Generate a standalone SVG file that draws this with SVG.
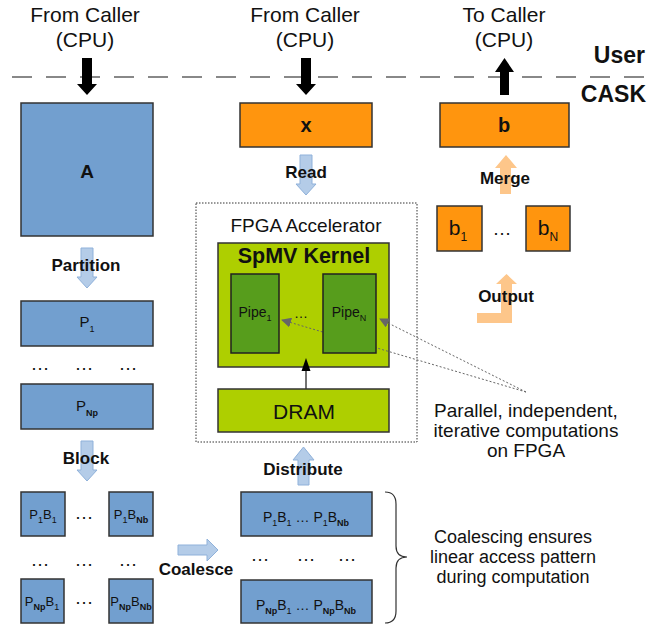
<svg xmlns="http://www.w3.org/2000/svg" width="672" height="629" viewBox="0 0 672 629">
<defs>
<style>
text{font-family:"Liberation Sans",Arial,sans-serif;fill:#111}
.t21{font-size:21px}
.b17{font-size:17px;font-weight:bold}
.blue{fill:#729fcf;stroke:#333;stroke-width:1.5}
.org{fill:#ff950e;stroke:#333;stroke-width:1.5}
.lime{fill:#aecf00;stroke:#333;stroke-width:1.5}
.grn{fill:#579d1c;stroke:#222;stroke-width:1.5}
.larr{fill:#b4cce8;stroke:#8fb1da;stroke-width:1}
.oarr{fill:#fdc68a;stroke:none}
.blk{fill:#000}
.dots{font-size:19px;text-anchor:middle}
.sub{font-size:9px}
.subb{font-size:9px;font-weight:bold}
</style>
<marker id="gh" viewBox="0 0 10 10" refX="9" refY="5" markerWidth="10" markerHeight="10" markerUnits="userSpaceOnUse" orient="auto">
<path d="M0,0 L10,5 L0,10 z" fill="#666"/>
</marker>
</defs>
<rect width="672" height="629" fill="#fff"/>

<g id="header">
<text class="t21" x="85" y="22" text-anchor="middle">From Caller</text>
<text class="t21" x="85" y="47" text-anchor="middle">(CPU)</text>
<text class="t21" x="305" y="22" text-anchor="middle">From Caller</text>
<text class="t21" x="305" y="47" text-anchor="middle">(CPU)</text>
<text class="t21" x="504" y="22" text-anchor="middle">To Caller</text>
<text class="t21" x="504" y="47" text-anchor="middle">(CPU)</text>
<text x="645" y="63" text-anchor="end" style="font-size:23px;font-weight:bold">User</text>
<text x="646" y="102" text-anchor="end" style="font-size:23px;font-weight:bold">CASK</text>
<line x1="12" y1="77" x2="656" y2="77" stroke="#888" stroke-width="2" stroke-dasharray="20 14"/>
</g>

<g id="A">
<rect class="blue" x="21" y="103" width="132" height="133"/>
<text x="87" y="178" text-anchor="middle" style="font-size:19px;font-weight:bold">A</text>
</g>
<g id="P1">
<rect class="blue" x="21" y="301" width="132" height="45"/>
<text x="87" y="327" text-anchor="middle" style="font-size:15px">P<tspan class="sub" dy="5">1</tspan></text>
</g>
<g id="PNp">
<rect class="blue" x="21" y="384" width="132" height="45"/>
<text x="87" y="411" text-anchor="middle" style="font-size:15px">P<tspan class="subb" dy="5">Np</tspan></text>
</g>
<g id="P1B1">
<rect class="blue" x="21" y="492" width="44" height="44"/>
<text x="43" y="519" text-anchor="middle" style="font-size:13px">P<tspan class="sub" dy="4">1</tspan><tspan dy="-4">B</tspan><tspan class="sub" dy="4">1</tspan></text>
</g>
<g id="P1BNb">
<rect class="blue" x="109" y="492" width="44" height="44"/>
<text x="131" y="519" text-anchor="middle" style="font-size:13px">P<tspan class="sub" dy="4">1</tspan><tspan dy="-4">B</tspan><tspan class="subb" dy="4">Nb</tspan></text>
</g>
<g id="PNpB1">
<rect class="blue" x="21" y="579" width="43" height="44"/>
<text x="42" y="606" text-anchor="middle" style="font-size:13px">P<tspan class="subb" dy="4">Np</tspan><tspan dy="-4">B</tspan><tspan class="sub" dy="4">1</tspan></text>
</g>
<g id="PNpBNb">
<rect class="blue" x="109" y="579" width="44" height="44"/>
<text x="131" y="606" text-anchor="middle" style="font-size:13px">P<tspan class="subb" dy="4">Np</tspan><tspan dy="-4">B</tspan><tspan class="subb" dy="4">Nb</tspan></text>
</g>
<g id="leftdots">
<text class="dots" x="40" y="370">…</text>
<text class="dots" x="84" y="370">…</text>
<text class="dots" x="128" y="370">…</text>
<text class="dots" x="84" y="519">…</text>
<text class="dots" x="40" y="566">…</text>
<text class="dots" x="84" y="566">…</text>
<text class="dots" x="128" y="566">…</text>
<text class="dots" x="84" y="604">…</text>
</g>
<g id="C1">
<rect class="blue" x="241" y="492" width="131" height="44"/>
<text x="306" y="522" text-anchor="middle" style="font-size:14px">P<tspan class="sub" dy="4">1</tspan><tspan dy="-4">B</tspan><tspan class="sub" dy="4">1</tspan><tspan dy="-4"> … P</tspan><tspan class="sub" dy="4">1</tspan><tspan dy="-4">B</tspan><tspan class="subb" dy="4">Nb</tspan></text>
</g>
<g id="C2">
<rect class="blue" x="241" y="580" width="131" height="43"/>
<text x="306" y="610" text-anchor="middle" style="font-size:14px">P<tspan class="subb" dy="4">Np</tspan><tspan dy="-4">B</tspan><tspan class="sub" dy="4">1</tspan><tspan dy="-4"> … P</tspan><tspan class="subb" dy="4">Np</tspan><tspan dy="-4">B</tspan><tspan class="subb" dy="4">Nb</tspan></text>
</g>
<g id="cdots">
<text class="dots" x="260" y="561">…</text>
<text class="dots" x="306" y="561">…</text>
<text class="dots" x="347" y="561">…</text>
</g>
<g id="coalnote">
<path d="M385,492 Q396,492 396,504 L396,546 Q396,557 407,557 Q396,557 396,568 L396,611 Q396,623 385,623" fill="none" stroke="#333" stroke-width="1.2"/>
<text x="513" y="543" text-anchor="middle" style="font-size:18px">Coalescing ensures</text>
<text x="513" y="563" text-anchor="middle" style="font-size:18px">linear access pattern</text>
<text x="513" y="583" text-anchor="middle" style="font-size:18px">during computation</text>
</g>

<g id="x">
<rect class="org" x="240" y="103" width="132" height="44"/>
<text x="306" y="132" text-anchor="middle" style="font-size:20px;font-weight:bold">x</text>
</g>
<g id="b">
<rect class="org" x="440" y="103" width="129" height="44"/>
<text x="504" y="132" text-anchor="middle" style="font-size:20px;font-weight:bold">b</text>
</g>
<g id="b1">
<rect class="org" x="437" y="206" width="45" height="45"/>
<text x="458" y="235" text-anchor="middle" style="font-size:21px">b<tspan style="font-size:12px" dy="6">1</tspan></text>
</g>
<g id="bN">
<rect class="org" x="526" y="206" width="44" height="45"/>
<text x="548" y="235" text-anchor="middle" style="font-size:21px">b<tspan style="font-size:12px" dy="6">N</tspan></text>
</g>
<text class="dots" x="502" y="235">…</text>

<g id="FPGA">
<rect x="196" y="203" width="221" height="239" fill="none" stroke="#333" stroke-width="1" stroke-dasharray="1.5 1.5"/>
<text x="306" y="232" text-anchor="middle" style="font-size:19px">FPGA Accelerator</text>
</g>
<g id="SpMV">
<rect class="lime" x="218" y="243" width="171" height="124"/>
<text x="304" y="263" text-anchor="middle" style="font-size:21.5px;font-weight:bold">SpMV Kernel</text>
</g>
<g id="Pipe1">
<rect class="grn" x="231" y="274" width="48" height="79"/>
<text x="255" y="317" text-anchor="middle" style="font-size:14px">Pipe<tspan class="sub" dy="4">1</tspan></text>
</g>
<text x="301" y="318" text-anchor="middle" style="font-size:14px">…</text>

<g id="connectors">
<path class="blk" d="M82,58 H92 V84 H97 L87,95 L77,84 H82 Z"/>
<path class="blk" d="M301,58 H311 V84 H316 L306,95 L296,84 H301 Z"/>
<path class="blk" d="M500,95 H509 V72 H514 L504.5,58 L495,72 H500 Z"/>
<path class="larr" d="M81,248 H93 V277 H97 L87,288 L77,277 H81 Z"/>
<path class="larr" d="M300,155 H312 V184 H316 L306,195 L296,184 H300 Z"/>
<path class="larr" d="M81,441 H93 V470 H97 L87,481 L77,470 H81 Z"/>
<path class="larr" d="M178,545 H207 V539 L218,550 L207,561 V555 H178 Z"/>
<path class="larr" d="M298,485 V460 H293 L303.5,447 L314,460 H309 V485 Z"/>
<path class="oarr" d="M500,194 V168 H495 L506,155 L517,168 H511 V194 Z"/>
<path class="oarr" d="M477,313 H501 V284 H496 L506.5,274 L517,284 H512 V323 H477 Z"/>
<line x1="306" y1="392" x2="306" y2="370" stroke="#444" stroke-width="1.5"/>
<path class="blk" d="M306,358 L310.5,371 H301.5 Z"/>
<line x1="526" y1="392" x2="282" y2="320" stroke="#666" stroke-width="1" stroke-dasharray="2 2" marker-end="url(#gh)"/>
<line x1="526" y1="392" x2="380" y2="319" stroke="#666" stroke-width="1" stroke-dasharray="2 2" marker-end="url(#gh)"/>
</g>

<g id="PipeN">
<rect class="grn" x="323" y="274" width="53" height="79"/>
<text x="349" y="317" text-anchor="middle" style="font-size:14px">Pipe<tspan class="sub" dy="4">N</tspan></text>
</g>
<g id="DRAM">
<rect class="lime" x="218" y="389" width="171" height="43"/>
<text x="304" y="419" text-anchor="middle" style="font-size:21px">DRAM</text>
</g>

<g id="labels">
<text class="b17" x="86" y="271" text-anchor="middle">Partition</text>
<text class="b17" x="306" y="178" text-anchor="middle">Read</text>
<text class="b17" x="86" y="464" text-anchor="middle">Block</text>
<text class="b17" x="196" y="575" text-anchor="middle">Coalesce</text>
<text class="b17" x="303" y="475" text-anchor="middle">Distribute</text>
<text class="b17" x="505" y="184" text-anchor="middle">Merge</text>
<text class="b17" x="506" y="302" text-anchor="middle">Output</text>
</g>
<g id="note">
<text x="526" y="417" text-anchor="middle" style="font-size:19px">Parallel, independent,</text>
<text x="526" y="437" text-anchor="middle" style="font-size:19px">iterative computations</text>
<text x="526" y="457" text-anchor="middle" style="font-size:19px">on FPGA</text>
</g>
</svg>
